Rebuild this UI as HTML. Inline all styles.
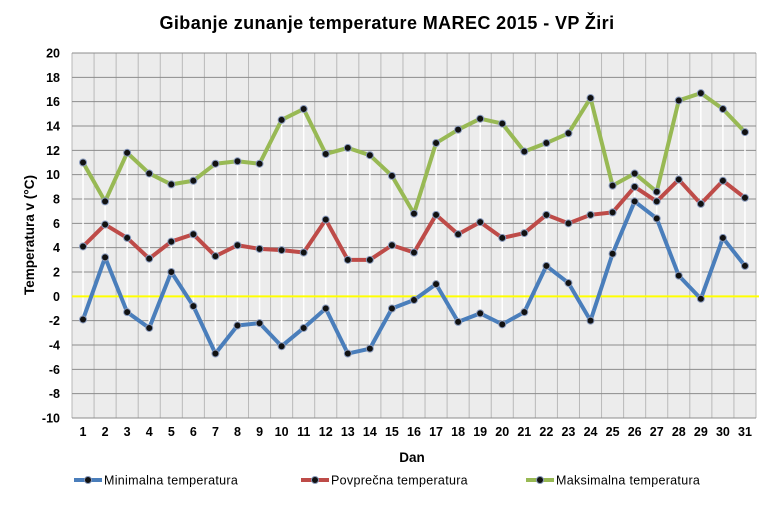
<!DOCTYPE html>
<html><head><meta charset="utf-8"><style>body{margin:0;background:#fff}svg{display:block}text{font-family:"Liberation Sans",Arial,sans-serif;font-weight:bold;fill:#000}</style></head>
<body>
<svg id="s" width="770" height="505" xmlns="http://www.w3.org/2000/svg"></svg>
<script>
const s=document.getElementById('s');
const L=72,R=756,T=53,B=418,n=31,w=(R-L)/n;
const Y=v=>B-(v+10)*(B-T)/30, X=i=>L+w*(i+0.5);
let h=`<text x="387" y="29" font-size="18" text-anchor="middle" letter-spacing="0.4">Gibanje zunanje temperature MAREC 2015 - VP Žiri</text>`;
h+=`<rect x="${L}" y="${T}" width="${R-L}" height="${B-T}" fill="#ececec"/>`;
for(let i=0;i<=n;i++){const x=L+w*i;h+=`<line x1="${x}" y1="${T}" x2="${x}" y2="${B}" stroke="#b9b9b9" stroke-width="1"/>`;}
for(let v=-10;v<=20;v+=2){const y=Y(v);h+=`<line x1="${L}" y1="${y}" x2="${R}" y2="${y}" stroke="#8c8c8c" stroke-width="1"/><text x="${L-12}" y="${y+4.5}" font-size="12.5" text-anchor="end">${v}</text>`;}
for(let i=0;i<n;i++)h+=`<text x="${X(i)}" y="436" font-size="12.5" text-anchor="middle">${i+1}</text>`;
const mx=[11,7.8,11.8,10.1,9.2,9.5,10.9,11.1,10.9,14.5,15.4,11.7,12.2,11.6,9.9,6.8,12.6,13.7,14.6,14.2,11.9,12.6,13.4,16.3,9.1,10.1,8.6,16.1,16.7,15.4,13.5];
const av=[4.1,5.9,4.8,3.1,4.5,5.1,3.3,4.2,3.9,3.8,3.6,6.3,3.0,3.0,4.2,3.6,6.7,5.1,6.1,4.8,5.2,6.7,6.0,6.7,6.9,9.0,7.8,9.6,7.6,9.5,8.1];
const mn=[-1.9,3.2,-1.3,-2.6,2.0,-0.8,-4.7,-2.4,-2.2,-4.1,-2.6,-1.0,-4.7,-4.3,-1.0,-0.3,1.0,-2.1,-1.4,-2.3,-1.3,2.5,1.1,-2.0,3.5,7.8,6.4,1.7,-0.2,4.8,2.5];
for(let i=0;i<n;i++)h+=`<line x1="${X(i)}" y1="${Y(mx[i])}" x2="${X(i)}" y2="${Y(mn[i])}" stroke="#fff" stroke-width="1.5"/>`;
h+=`<line x1="${L}" y1="${Y(0)}" x2="759" y2="${Y(0)}" stroke="#ffff00" stroke-width="2"/>`;
function ser(d,c){h+=`<polyline points="${d.map((v,i)=>X(i)+','+Y(v)).join(' ')}" fill="none" stroke="${c}" stroke-width="4" stroke-linejoin="round"/>`;
d.forEach((v,i)=>h+=`<circle cx="${X(i)}" cy="${Y(v)}" r="3.5" fill="#111" stroke="#8899bb" stroke-width="1"/>`);}
ser(mn,'#4a7ebb');ser(av,'#be4b48');ser(mx,'#98b954');
h+=`<text x="412" y="462" font-size="13.5" text-anchor="middle">Dan</text>`;
h+=`<text transform="translate(34,235) rotate(-90)" font-size="13.5" text-anchor="middle">Temperatura v (°C)</text>`;
[[74,'#4a7ebb','Minimalna temperatura'],[301,'#be4b48','Povprečna temperatura'],[526,'#98b954','Maksimalna temperatura']].forEach(([x,c,t])=>{
h+=`<line x1="${x}" y1="480" x2="${x+28}" y2="480" stroke="${c}" stroke-width="4"/><circle cx="${x+14}" cy="480" r="3.5" fill="#111" stroke="#8899bb"/><text x="${x+30}" y="484.5" font-size="12.5" letter-spacing="0.3" style="font-weight:normal">${t}</text>`;});
s.innerHTML=h;
</script>
</body></html>
